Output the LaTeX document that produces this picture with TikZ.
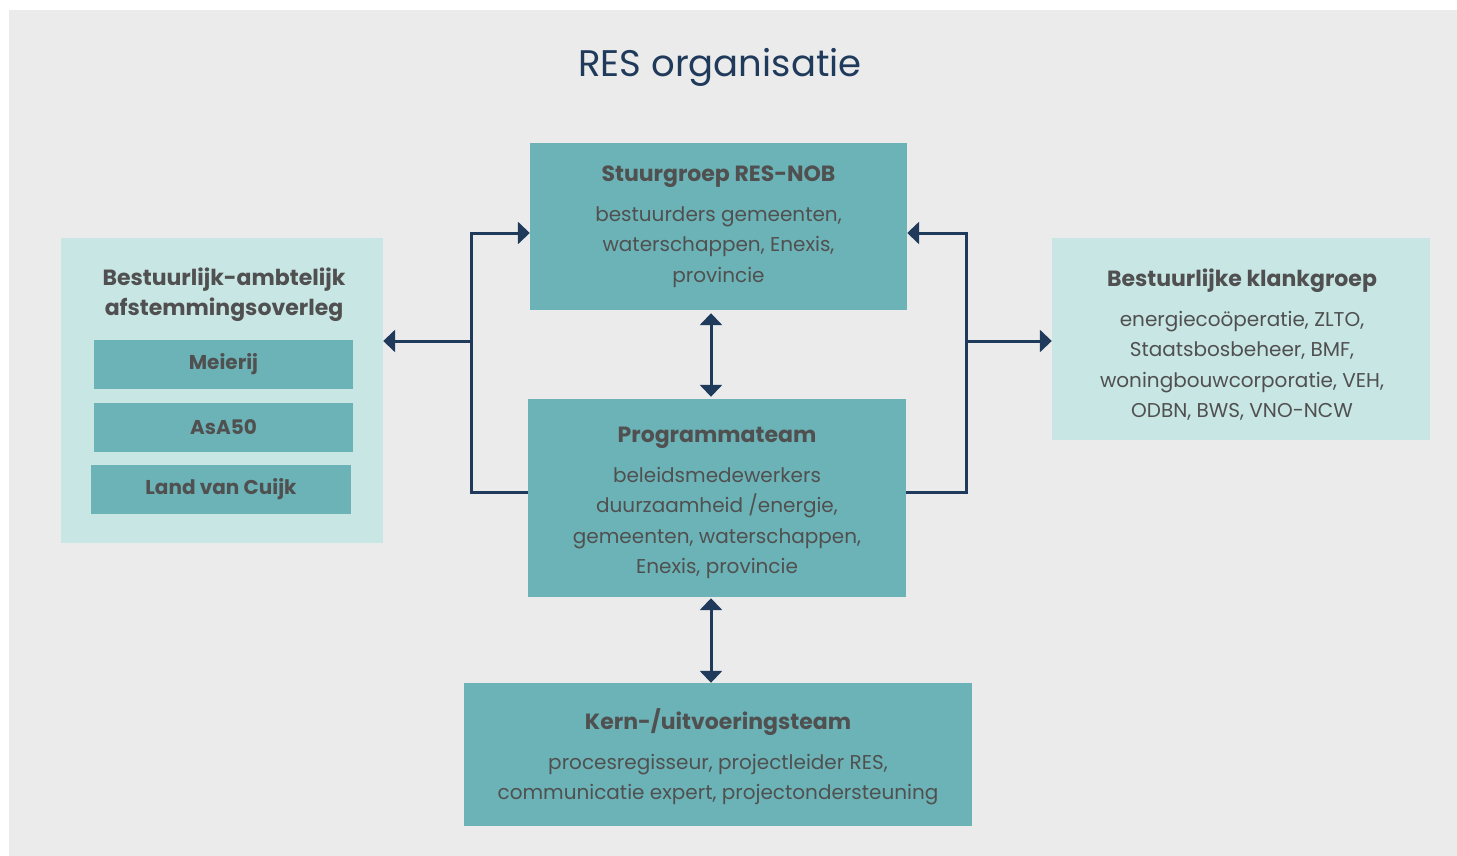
\documentclass[tikz,border=0pt]{standalone}
\usepackage{fontspec}
\setmainfont{Poppins}
\usepackage{tikz}
\usetikzlibrary{arrows.meta}

\definecolor{bggray}{HTML}{EBEBEB}
\definecolor{teal}{HTML}{6BB3B7}
\definecolor{lightteal}{HTML}{C7E6E4}
\definecolor{navy}{HTML}{1F3A5A}
\definecolor{txtgray}{HTML}{505050}

\newcommand{\kop}[1]{{\fontsize{22}{30.5}\selectfont\bfseries #1}}

\tikzset{
	blok/.style={fill=teal, text=txtgray, align=center, inner sep=0pt,
		font=\fontsize{20}{30.5}\selectfont},
	lichtblok/.style={fill=lightteal, text=txtgray, align=center, inner sep=0pt,
		font=\fontsize{20}{30.5}\selectfont},
	sub/.style={fill=teal, text=txtgray, inner sep=0pt, minimum width=259pt,
		minimum height=49pt, font=\fontsize{20}{30.5}\selectfont\bfseries},
	link/.style={draw=navy, line width=3pt},
	pijl/.style={link, -{Triangle[length=12pt, width=22pt]}},
	dubbel/.style={link, {Triangle[length=12pt, width=22pt]}-{Triangle[length=12pt, width=22pt]}}
}

\begin{document}
\begin{tikzpicture}[x=1pt, y=-1pt]
	\useasboundingbox (0,0) rectangle (1457,856);
	\fill[white] (0,0) rectangle (1457,856);
	\fill[bggray] (9,10) rectangle (1457,856);

	\node[text=navy, font=\fontsize{37}{40}\selectfont] (titel) at (720,67) {RES organisatie};

	% middelste kolom
	\node[blok, minimum width=377pt, minimum height=167pt] (stuur) at (718.5,226.5) {};
	\node[blok] (stuurtekst) at (718.5,227)
		{\kop{Stuurgroep RES-NOB}\\[9pt] bestuurders gemeenten,\\ waterschappen, Enexis,\\ provincie};
	\node[blok, minimum width=378pt, minimum height=198pt] (prog) at (717,498) {};
	\node[blok] (progtekst) at (717,503)
		{\kop{Programmateam}\\[9pt] beleidsmedewerkers\\ duurzaamheid /energie,\\ gemeenten, waterschappen,\\ Enexis, provincie};
	\node[blok, minimum width=508pt, minimum height=143pt] (kern) at (718,754.5) {};
	\node[blok] (kerntekst) at (718,757)
		{\kop{Kern-/uitvoeringsteam}\\[9pt] procesregisseur, projectleider RES,\\ communicatie expert, projectondersteuning};

	% links
	\node[lichtblok, minimum width=322pt, minimum height=305pt] (links) at (222,390.5) {};
	\node[text=txtgray, align=center, font=\fontsize{22}{30.5}\selectfont\bfseries] (linkstitel) at (224,294.5)
		{Bestuurlijk-ambtelijk\\ afstemmingsoverleg};
	\node[sub] (meierij) at (223.5,364.5) {Meierij};
	\node[sub] (asa) at (223.5,427.5) {AsA50};
	\node[sub, minimum width=260pt] (cuijk) at (221,489.5) {Land van Cuijk};

	% rechts
	\node[lichtblok, minimum width=378pt, minimum height=202pt] (rechts) at (1241,339) {};
	\node[lichtblok] (rechtstekst) at (1242,345)
		{\kop{Bestuurlijke klankgroep}\\[9pt] energiecoöperatie, ZLTO,\\ Staatsbosbeheer, BMF,\\ woningbouwcorporatie, VEH,\\ ODBN, BWS, VNO-NCW};

	% verbindingen
	\coordinate (lb) at (471,492);
	\coordinate (lm) at (471,341);
	\coordinate (lt) at (471,233);
	\coordinate (rb) at (966,492);
	\coordinate (rm) at (966,341);
	\coordinate (rt) at (966,233);
	\draw[pijl] (prog.west |- lb) -- (lb) -- (lt) -- (stuur.west |- lt);
	\draw[pijl] (lm) -- (links.east |- lm);
	\draw[pijl] (prog.east |- rb) -- (rb) -- (rt) -- (stuur.east |- rt);
	\draw[pijl] (rm) -- (rechts.west |- rm);
	\draw[dubbel] ([yshift=-3pt]stuur.south -| 711,0) -- ([yshift=2pt]prog.north -| 711,0);
	\draw[dubbel] ([yshift=-1pt]prog.south -| 711,0) -- (kern.north -| 711,0);
\end{tikzpicture}
\end{document}
